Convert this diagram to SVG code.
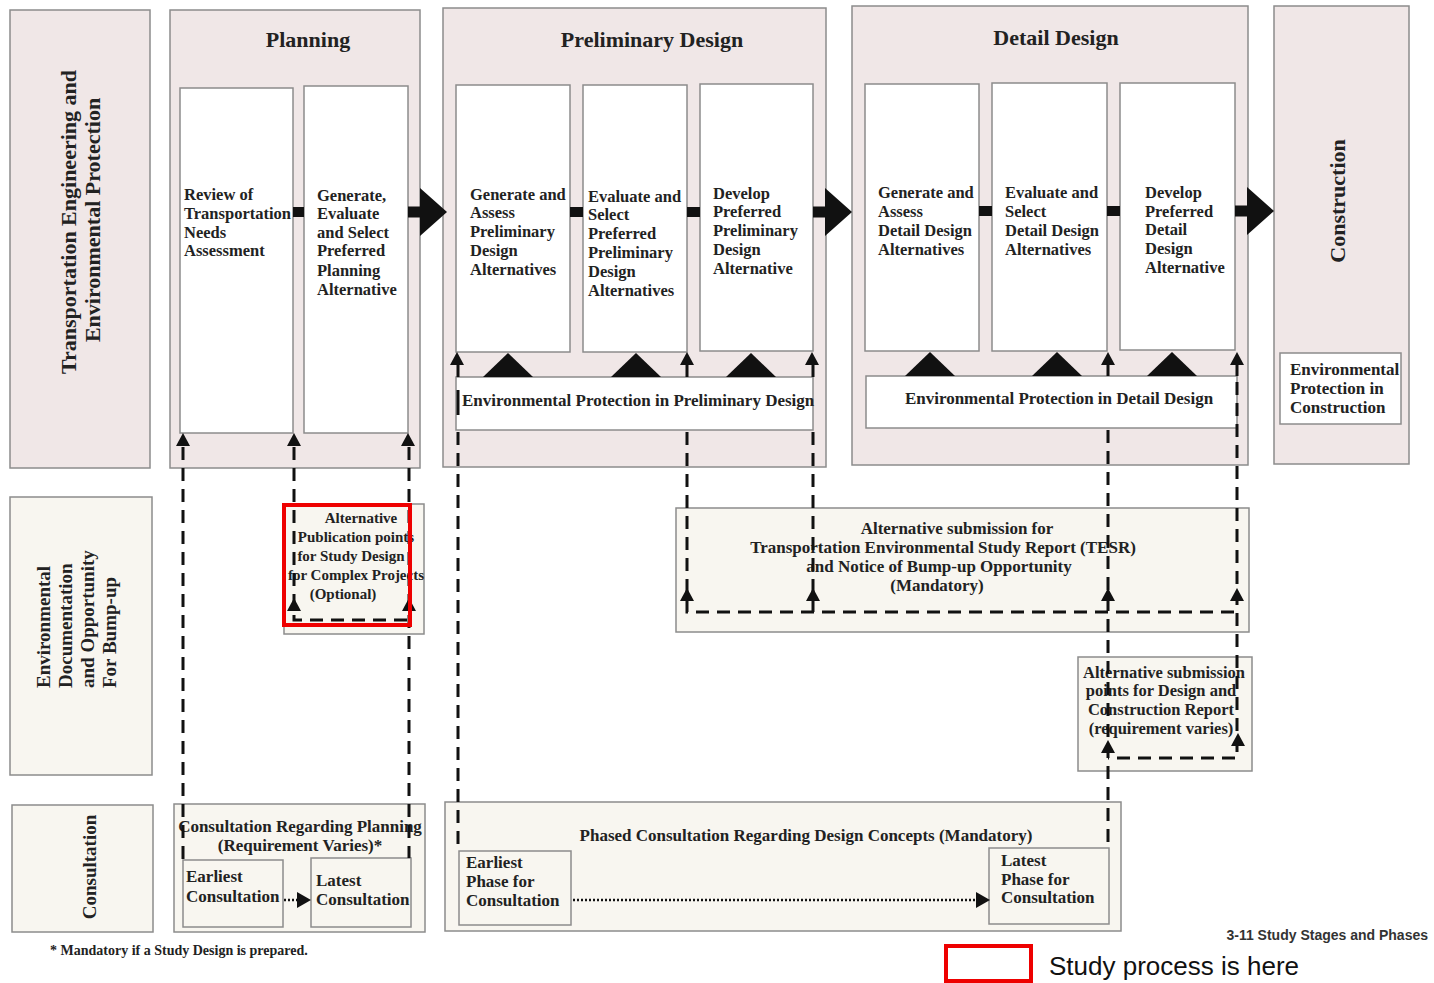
<svg xmlns="http://www.w3.org/2000/svg" xmlns:xlink="http://www.w3.org/1999/xlink" width="1434" height="983" viewBox="0 0 1434 983">
<style>
.panel{fill:#f0e7e7;stroke:#8c8c8c;stroke-width:1.5}
.lite{fill:#f8f6f0;stroke:#8c8c8c;stroke-width:1.5}
.box{fill:#ffffff;stroke:#8c8c8c;stroke-width:1.5}
text{font-family:"Liberation Serif","Times New Roman",serif;font-weight:bold;fill:#222}
.t{font-size:16.5px}
.b{font-size:17px}
.h{font-size:22px}
.s{font-size:15px}
.c{text-anchor:middle}
.dash{fill:none;stroke:#111;stroke-width:3;stroke-dasharray:13 8}
.solid{fill:none;stroke:#111;stroke-width:3}
.dot{fill:none;stroke:#111;stroke-width:2.5;stroke-dasharray:2 2}
.blk{fill:#111}
</style>
<defs>
<path id="up" d="M0,0 L-7,13 L7,13 Z" class="blk"/>
<path id="mtn" d="M0,0 L-25,24 L25,24 Z" class="blk"/>
<g id="big"><rect x="0" y="-5.5" width="13" height="11" class="blk"/><path d="M12,-24 L39,0 L12,24 Z" class="blk"/></g>
<path id="rt" d="M0,0 L-14,-8 L-14,8 Z" class="blk"/>
</defs>

<g id="lane-engineering">
<rect x="10" y="10" width="140" height="458" class="panel"/>
<text class="h c" transform="translate(76,222) rotate(-90)">Transportation Engineering and</text>
<text class="h c" transform="translate(100,220) rotate(-90)">Environmental Protection</text>
</g>

<g id="planning">
<rect x="170" y="10" width="250" height="458" class="panel"/>
<text class="h c" x="308" y="47">Planning</text>
<rect x="180" y="88" width="113" height="345" class="box"/>
<rect x="304" y="86" width="104" height="347" class="box"/>
<text class="t"><tspan x="184" y="200">Review of</tspan><tspan x="184" y="219">Transportation</tspan><tspan x="184" y="238">Needs</tspan><tspan x="184" y="256">Assessment</tspan></text>
<text class="t"><tspan x="317" y="201">Generate,</tspan><tspan x="317" y="219">Evaluate</tspan><tspan x="317" y="238">and Select</tspan><tspan x="317" y="256">Preferred</tspan><tspan x="317" y="276">Planning</tspan><tspan x="317" y="295">Alternative</tspan></text>
</g>

<g id="preliminary-design">
<rect x="443" y="8" width="383" height="459" class="panel"/>
<text class="h c" x="652" y="47">Preliminary Design</text>
<rect x="456" y="85" width="114" height="267" class="box"/>
<rect x="583" y="85" width="104" height="267" class="box"/>
<rect x="700" y="84" width="113" height="267" class="box"/>
<text class="t"><tspan x="470" y="200">Generate and</tspan><tspan x="470" y="218">Assess</tspan><tspan x="470" y="237">Preliminary</tspan><tspan x="470" y="256">Design</tspan><tspan x="470" y="275">Alternatives</tspan></text>
<text class="t"><tspan x="588" y="202">Evaluate and</tspan><tspan x="588" y="220">Select</tspan><tspan x="588" y="239">Preferred</tspan><tspan x="588" y="258">Preliminary</tspan><tspan x="588" y="277">Design</tspan><tspan x="588" y="296">Alternatives</tspan></text>
<text class="t"><tspan x="713" y="199">Develop</tspan><tspan x="713" y="217">Preferred</tspan><tspan x="713" y="236">Preliminary</tspan><tspan x="713" y="255">Design</tspan><tspan x="713" y="274">Alternative</tspan></text>
<rect x="456" y="377" width="357" height="53" class="box"/>
<text class="b" x="462" y="406">Environmental Protection in Preliminary Design</text>
<use xlink:href="#mtn" x="508" y="353"/>
<use xlink:href="#mtn" x="636" y="353"/>
<use xlink:href="#mtn" x="751" y="353"/>
</g>

<g id="detail-design">
<rect x="852" y="6" width="396" height="459" class="panel"/>
<text class="h c" x="1056" y="45">Detail Design</text>
<rect x="865" y="84" width="114" height="267" class="box"/>
<rect x="992" y="83" width="115" height="268" class="box"/>
<rect x="1120" y="83" width="115" height="267" class="box"/>
<text class="t"><tspan x="878" y="198">Generate and</tspan><tspan x="878" y="217">Assess</tspan><tspan x="878" y="236">Detail Design</tspan><tspan x="878" y="255">Alternatives</tspan></text>
<text class="t"><tspan x="1005" y="198">Evaluate and</tspan><tspan x="1005" y="217">Select</tspan><tspan x="1005" y="236">Detail Design</tspan><tspan x="1005" y="255">Alternatives</tspan></text>
<text class="t"><tspan x="1145" y="198">Develop</tspan><tspan x="1145" y="217">Preferred</tspan><tspan x="1145" y="235">Detail</tspan><tspan x="1145" y="254">Design</tspan><tspan x="1145" y="273">Alternative</tspan></text>
<rect x="866" y="376" width="371" height="52" class="box"/>
<text class="b c" x="1059" y="404">Environmental Protection in Detail Design</text>
<use xlink:href="#mtn" x="930" y="352"/>
<use xlink:href="#mtn" x="1057" y="352"/>
<use xlink:href="#mtn" x="1172" y="352"/>
</g>

<g id="construction">
<rect x="1274" y="6" width="135" height="458" class="panel"/>
<text class="h c" transform="translate(1345,201) rotate(-90)">Construction</text>
<rect x="1280" y="353" width="121" height="71" class="box"/>
<text class="b"><tspan x="1290" y="375">Environmental</tspan><tspan x="1290" y="394">Protection in</tspan><tspan x="1290" y="413">Construction</tspan></text>
</g>

<g id="lane-documentation">
<rect x="10" y="497" width="142" height="278" class="lite"/>
<text style="font-size:19px" transform="translate(50,688) rotate(-90)">Environmental</text>
<text style="font-size:19px" transform="translate(72,688) rotate(-90)">Documentation</text>
<text style="font-size:19px" transform="translate(94,688) rotate(-90)">and Opportunity</text>
<text style="font-size:19px" transform="translate(116,688) rotate(-90)">For Bump-up</text>
</g>

<g id="publication-points">
<rect x="284" y="504" width="140" height="130" class="lite"/>
<text class="s c"><tspan x="361" y="523">Alternative</tspan><tspan x="356" y="542">Publication points</tspan><tspan x="351" y="561">for Study Design</tspan><tspan x="356" y="580">for Complex Projects</tspan><tspan x="343" y="599">(Optional)</tspan></text>
</g>

<g id="tesr">
<rect x="676" y="508" width="573" height="124" class="lite"/>
<text class="b c"><tspan x="957" y="534">Alternative submission for</tspan><tspan x="943" y="553">Transportation Environmental Study Report (TESR)</tspan><tspan x="939" y="572">and Notice of Bump-up Opportunity</tspan><tspan x="937" y="591">(Mandatory)</tspan></text>
</g>

<g id="design-construction-report">
<rect x="1078" y="657" width="174" height="114" class="lite"/>
<text class="t c"><tspan x="1164" y="678">Alternative submission</tspan><tspan x="1161" y="696">points for Design and</tspan><tspan x="1161" y="715">Construction  Report</tspan><tspan x="1161" y="734">(requirement varies)</tspan></text>
</g>

<g id="lane-consultation">
<rect x="12" y="805" width="141" height="127" class="lite"/>
<text style="font-size:19px" class="c" transform="translate(96,867) rotate(-90)">Consultation</text>
</g>

<g id="planning-consultation">
<rect x="174" y="804" width="251" height="128" class="lite"/>
<text class="b c"><tspan x="300" y="832">Consultation Regarding Planning</tspan><tspan x="300" y="851">(Requirement Varies)*</tspan></text>
<rect x="183" y="860" width="100" height="67" class="lite"/>
<text class="b"><tspan x="186" y="882">Earliest</tspan><tspan x="186" y="902">Consultation</tspan></text>
<rect x="311" y="858" width="100" height="69" class="lite"/>
<text class="b"><tspan x="316" y="886">Latest</tspan><tspan x="316" y="905">Consultation</tspan></text>
</g>

<g id="phased-consultation">
<rect x="445" y="802" width="676" height="129" class="lite"/>
<text class="b c" x="806" y="841">Phased Consultation Regarding Design Concepts (Mandatory)</text>
<rect x="459" y="851" width="112" height="74" class="lite"/>
<text class="b"><tspan x="466" y="868">Earliest</tspan><tspan x="466" y="887">Phase for</tspan><tspan x="466" y="906">Consultation</tspan></text>
<rect x="989" y="848" width="120" height="76" class="lite"/>
<text class="b"><tspan x="1001" y="866">Latest</tspan><tspan x="1001" y="885">Phase for</tspan><tspan x="1001" y="903">Consultation</tspan></text>
</g>

<g id="connectors">
<rect x="293" y="207" width="11" height="10" class="blk"/>
<rect x="570" y="207" width="13" height="10" class="blk"/>
<rect x="687" y="207" width="13" height="10" class="blk"/>
<rect x="979" y="206" width="13" height="10" class="blk"/>
<rect x="1107" y="206" width="13" height="10" class="blk"/>
<use xlink:href="#big" x="408" y="212"/>
<use xlink:href="#big" x="813" y="212"/>
<use xlink:href="#big" x="1235" y="211"/>

<path class="dash" d="M183,447 V860"/>
<path class="dash" d="M294,447 V620 H409"/>
<path class="dash" d="M409,447 V858"/>
<use xlink:href="#up" x="183" y="433"/>
<use xlink:href="#up" x="294" y="433"/>
<use xlink:href="#up" x="408" y="433"/>
<use xlink:href="#up" x="294" y="598"/>
<use xlink:href="#up" x="409" y="598"/>

<path class="solid" d="M458,364 V377 M458,390 V415 M687,364 V377 M813,364 V377 M1108,364 V376 M1237,364 V376"/>
<path class="dash" d="M458,432 V851"/>
<path class="dash" d="M687,432 V612 H1237"/>
<path class="dash" d="M813,432 V612"/>
<path class="dash" d="M1108,430 V848"/>
<path class="dash" d="M1237,382 V758 H1108"/>
<use xlink:href="#up" x="457" y="352"/>
<use xlink:href="#up" x="687" y="352"/>
<use xlink:href="#up" x="812" y="352"/>
<use xlink:href="#up" x="1108" y="352"/>
<use xlink:href="#up" x="1237" y="352"/>
<use xlink:href="#up" x="687" y="588"/>
<use xlink:href="#up" x="813" y="588"/>
<use xlink:href="#up" x="1108" y="588"/>
<use xlink:href="#up" x="1237" y="588"/>
<use xlink:href="#up" x="1108" y="740"/>
<use xlink:href="#up" x="1238" y="733"/>

<path class="dot" d="M284,900 H298"/>
<use xlink:href="#rt" x="311" y="900"/>
<path class="dot" d="M573,900 H977"/>
<use xlink:href="#rt" x="990" y="900"/>
</g>

<text style="font-size:14px" x="50" y="955">* Mandatory if a Study Design is prepared.</text>
<text style="font-family:'Liberation Sans',Arial,sans-serif;font-size:14px;font-weight:bold;fill:#333" x="1428" y="940" text-anchor="end">3-11 Study Stages and Phases</text>

<g id="legend">
<rect x="946" y="946" width="85" height="35" fill="none" stroke="#ee0000" stroke-width="4"/>
<text style="font-family:'Liberation Sans',Arial,sans-serif;font-size:26px;font-weight:normal;fill:#111" x="1049" y="975">Study process is here</text>
</g>
<rect id="highlight" x="284" y="505" width="126" height="120" fill="none" stroke="#ee0000" stroke-width="4"/>
</svg>
